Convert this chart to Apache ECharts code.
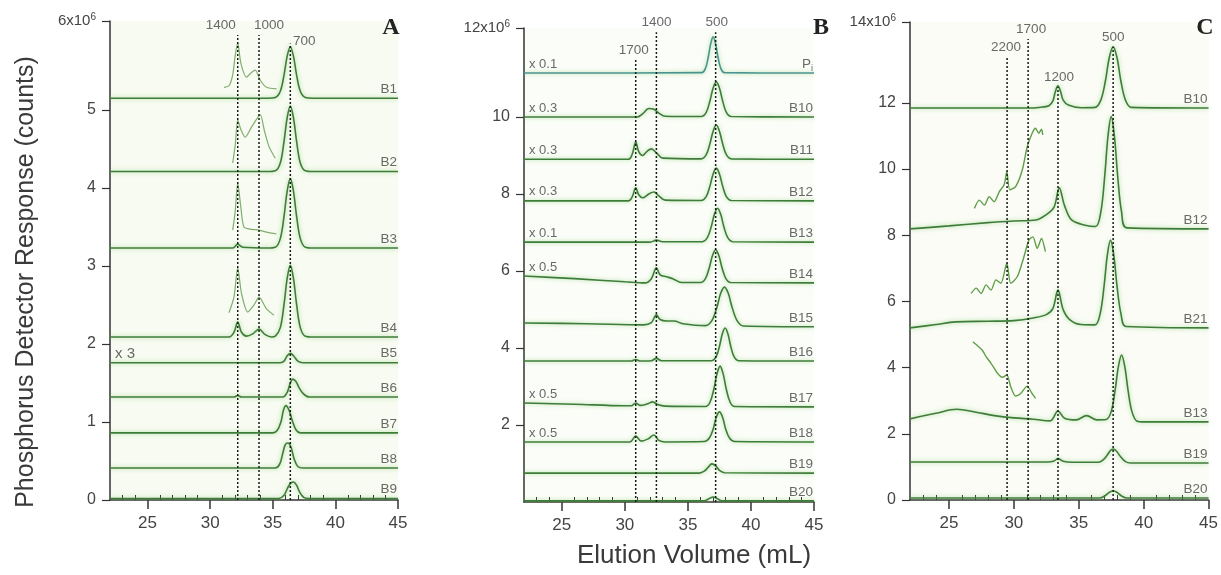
<!DOCTYPE html>
<html><head><meta charset="utf-8">
<script src="https://cdn.jsdelivr.net/npm/echarts@6/dist/echarts.min.js"></script>
<style>html,body{margin:0;padding:0;background:#fff}#c{width:1221px;height:575px}</style>
</head><body><div id="c"></div>
<script>
// ---------- shared axis ticks ----------
const X_MAJOR = [25, 30, 35, 40, 45];
const X_MINOR = [23, 24, 26, 27, 28, 29, 31, 32, 33, 34, 36, 37, 38, 39, 41, 42, 43, 44];

// ---------- Panel A ----------
const A_yTickValues = [0, 1, 2, 3, 4, 5, 6.14];
const A_yTickLabels = ['0', '1', '2', '3', '4', '5', '{m|6x10}{s|6}'];
const A_names = ['B1', 'B2', 'B3', 'B4', 'B5', 'B6', 'B7', 'B8', 'B9'];
const A_scale = ['', '', '', '', 'x 3', '', '', '', ''];
const A_refX = [32.2, 33.9, 36.4];
const A_refTop = [5.96, 5.96, 5.85];
const A_refText = ['1400', '1000', '700'];
const A_B1 = [[22,5.15],[34.6,5.15],[35.2,5.16],[35.6,5.24],[35.9,5.45],[36.15,5.69],[36.4,5.81],[36.65,5.69],[36.9,5.45],[37.2,5.24],[37.6,5.16],[38.2,5.15],[45,5.15]];
const A_B2 = [[22,4.21],[34.6,4.21],[35.2,4.22],[35.6,4.32],[35.9,4.6],[36.15,4.9],[36.4,5.05],[36.65,4.9],[36.9,4.6],[37.2,4.32],[37.6,4.22],[38.2,4.21],[45,4.21]];
const A_B3 = [[22,3.23],[31.8,3.23],[32.2,3.28],[32.6,3.24],[34.6,3.23],[35.2,3.24],[35.6,3.35],[35.9,3.64],[36.15,3.96],[36.4,4.12],[36.65,3.96],[36.9,3.64],[37.2,3.35],[37.6,3.24],[38.2,3.23],[45,3.23]];
const A_B4 = [[22,2.09],[31.5,2.09],[31.9,2.15],[32.2,2.28],[32.5,2.15],[32.9,2.1],[33.4,2.13],[33.9,2.19],[34.4,2.12],[34.9,2.09],[35.2,2.1],[35.6,2.21],[35.9,2.51],[36.15,2.84],[36.4,3.01],[36.65,2.84],[36.9,2.51],[37.2,2.21],[37.6,2.1],[38.2,2.09],[45,2.09]];
const A_B5 = [[22,1.76],[35.6,1.76],[35.9,1.78],[36.15,1.85],[36.4,1.88],[36.7,1.84],[37.0,1.78],[37.4,1.76],[45,1.76]];
const A_B6 = [[22,1.32],[31.9,1.32],[32.2,1.34],[32.5,1.32],[35.8,1.32],[36.15,1.38],[36.4,1.5],[36.6,1.55],[36.85,1.52],[37.1,1.44],[37.45,1.36],[37.9,1.32],[45,1.32]];
const A_B7 = [[22,0.86],[35.0,0.86],[35.35,0.89],[35.65,1.0],[35.85,1.15],[36.05,1.21],[36.3,1.15],[36.55,1.02],[36.85,0.9],[37.2,0.86],[45,0.86]];
const A_B8 = [[22,0.41],[35.2,0.41],[35.55,0.46],[35.8,0.6],[36.0,0.71],[36.2,0.73],[36.45,0.68],[36.7,0.53],[37.0,0.43],[37.4,0.41],[45,0.41]];
const A_B9 = [[22,0.02],[35.5,0.02],[35.9,0.06],[36.2,0.16],[36.45,0.22],[36.65,0.23],[36.9,0.19],[37.15,0.1],[37.5,0.03],[37.9,0.02],[45,0.02]];
const A_I1 = [[31.1,5.29],[31.5,5.31],[31.8,5.45],[32.0,5.7],[32.2,5.86],[32.45,5.6],[32.9,5.42],[33.3,5.48],[33.6,5.51],[34.0,5.38],[34.5,5.29],[35.3,5.27]];
const A_I2 = [[31.8,4.32],[32.0,4.55],[32.2,4.87],[32.45,4.75],[32.8,4.65],[33.3,4.78],[33.7,4.88],[34.0,4.94],[34.35,4.72],[34.7,4.53],[35.2,4.38]];
const A_I3 = [[31.8,3.46],[32.0,3.7],[32.2,4.07],[32.45,3.75],[32.7,3.5],[33.3,3.47],[33.9,3.46],[34.6,3.43],[35.3,3.41]];
const A_I4 = [[31.5,2.4],[31.9,2.6],[32.2,2.98],[32.5,2.65],[33.0,2.41],[33.5,2.5],[33.9,2.6],[34.5,2.45],[35.1,2.37]];

// ---------- Panel B ----------
const B_yTickValues = [2, 4, 6, 8, 10, 12.31];
const B_yTickLabels = ['2', '4', '6', '8', '10', '{m|12x10}{s|6}'];
const B_names = ['P{sub|i}', 'B10', 'B11', 'B12', 'B13', 'B14', 'B15', 'B16', 'B17', 'B18', 'B19', 'B20'];
const B_scale = ['x 0.1', 'x 0.3', 'x 0.3', 'x 0.3', 'x 0.1', 'x 0.5', '', '', 'x 0.5', 'x 0.5', '', ''];
const B_refX = [30.86, 32.5, 37.2];
const B_refTop = [11.48, 12.2, 12.2];
const B_refText = ['1700', '1400', '500'];
const B_Pi = [[22,11.14],[36.1,11.15],[36.4,11.27],[36.6,11.53],[36.8,11.89],[37.0,12.08],[37.2,11.89],[37.4,11.53],[37.6,11.27],[37.9,11.15],[45,11.14]];
const B_B10 = [[22,10.0],[31.0,10.0],[31.4,10.08],[31.9,10.22],[32.3,10.2],[32.7,10.1],[33.2,10.02],[36.05,10.01],[36.45,10.12],[36.75,10.42],[37.0,10.75],[37.25,10.91],[37.5,10.75],[37.75,10.42],[38.05,10.12],[38.45,10.01],[45,10.0]];
const B_B11 = [[22,8.9],[30.3,8.9],[30.6,9.05],[30.86,9.35],[31.1,9.1],[31.4,9.0],[31.8,9.12],[32.1,9.17],[32.5,9.07],[33.0,8.93],[36.05,8.91],[36.45,9.02],[36.75,9.31],[37.0,9.63],[37.25,9.79],[37.5,9.63],[37.75,9.31],[38.05,9.02],[38.45,8.91],[45,8.9]];
const B_B12 = [[22,7.82],[30.3,7.82],[30.6,7.94],[30.86,8.16],[31.1,7.98],[31.4,7.9],[31.9,8.0],[32.3,8.05],[32.7,7.95],[33.2,7.84],[36.05,7.83],[36.45,7.93],[36.75,8.21],[37.0,8.52],[37.25,8.67],[37.5,8.52],[37.75,8.21],[38.05,7.93],[38.45,7.83],[45,7.82]];
const B_B13 = [[22,6.75],[32.0,6.75],[32.5,6.8],[33.0,6.76],[36.15,6.76],[36.55,6.87],[36.85,7.15],[37.1,7.47],[37.35,7.63],[37.6,7.47],[37.85,7.15],[38.15,6.87],[38.55,6.76],[45,6.75]];
const B_B14 = [[22,5.87],[26,5.8],[30,5.72],[31.6,5.69],[32.1,5.8],[32.5,6.08],[32.8,5.9],[33.3,5.85],[33.8,5.8],[34.5,5.7],[36.0,5.7],[36.4,5.81],[36.7,6.09],[36.95,6.4],[37.2,6.55],[37.45,6.4],[37.7,6.09],[38.0,5.81],[38.4,5.7],[45,5.69]];
const B_B15 = [[22,4.65],[27,4.63],[31.5,4.6],[32.1,4.66],[32.5,4.86],[32.8,4.74],[33.3,4.7],[33.9,4.7],[34.6,4.63],[36.4,4.58],[36.9,4.71],[37.3,5.06],[37.6,5.42],[37.9,5.58],[38.2,5.42],[38.5,5.06],[38.9,4.71],[39.4,4.57],[45,4.55]];
const B_B16 = [[22,3.66],[30.5,3.66],[30.86,3.7],[31.2,3.66],[32.1,3.67],[32.5,3.73],[32.9,3.67],[36.9,3.67],[37.25,3.78],[37.5,4.04],[37.73,4.37],[37.95,4.52],[38.17,4.37],[38.4,4.04],[38.65,3.78],[39.0,3.67],[45,3.66]];
const B_B17 = [[22,2.57],[26,2.54],[30,2.5],[30.5,2.5],[30.86,2.57],[31.2,2.51],[31.8,2.55],[32.2,2.6],[32.6,2.53],[33.2,2.49],[36.4,2.48],[36.75,2.59],[37.05,2.92],[37.3,3.32],[37.55,3.53],[37.8,3.32],[38.05,2.92],[38.35,2.59],[38.7,2.48],[45,2.47]];
const B_B18 = [[22,1.56],[30.4,1.56],[30.86,1.71],[31.3,1.58],[31.9,1.65],[32.3,1.74],[32.7,1.6],[33.2,1.56],[36.3,1.57],[36.7,1.66],[37.0,1.89],[37.25,2.2],[37.5,2.34],[37.75,2.2],[38.0,1.89],[38.3,1.66],[38.7,1.57],[45,1.56]];
const B_B19 = [[22,0.75],[35.9,0.75],[36.3,0.8],[36.6,0.9],[36.9,0.99],[37.2,0.94],[37.5,0.82],[37.9,0.76],[45,0.75]];
const B_B20 = [[22,0.03],[36.3,0.03],[36.7,0.09],[37.0,0.13],[37.3,0.09],[37.7,0.03],[45,0.03]];

// ---------- Panel C ----------
const C_yTickValues = [0, 2, 4, 6, 8, 10, 12, 14.44];
const C_yTickLabels = ['0', '2', '4', '6', '8', '10', '12', '{m|14x10}{s|6}'];
const C_names = ['B10', 'B12', 'B21', 'B13', 'B19', 'B20'];
const C_refX = [29.48, 31.1, 33.4, 37.65];
const C_refTop = [13.38, 13.93, 12.48, 13.69];
const C_refText = ['2200', '1700', '1200', '500'];
const C_B10 = [[22,11.84],[31.5,11.84],[32.2,11.87],[32.7,11.91],[33.0,12.05],[33.2,12.34],[33.4,12.51],[33.6,12.34],[33.8,12.08],[34.2,11.93],[35.2,11.85],[36.25,11.86],[36.7,12.08],[37.05,12.65],[37.35,13.36],[37.65,13.69],[37.95,13.36],[38.25,12.65],[38.6,12.08],[39.05,11.86],[45,11.84]];
const C_B12 = [[22,8.19],[25,8.28],[28,8.38],[30,8.43],[31.7,8.46],[32.5,8.62],[33.1,8.85],[33.5,9.43],[33.9,8.9],[34.45,8.46],[35.5,8.3],[36.3,8.26],[36.7,8.7],[37.0,9.78],[37.25,10.98],[37.5,11.58],[37.75,10.98],[38.0,9.78],[38.3,8.7],[38.7,8.22],[45,8.19]];
const C_B21 = [[22,5.2],[24,5.3],[25.5,5.38],[28,5.4],[30,5.42],[31.5,5.5],[32.5,5.6],[33.0,5.78],[33.4,6.34],[33.8,5.75],[34.3,5.45],[35.2,5.3],[36.25,5.29],[36.65,5.63],[36.95,6.46],[37.2,7.39],[37.45,7.85],[37.7,7.39],[37.95,6.46],[38.25,5.63],[38.65,5.24],[45,5.2]];
const C_B13 = [[22,2.45],[24,2.62],[25.6,2.74],[27,2.66],[28.5,2.55],[30,2.48],[31.5,2.44],[32.8,2.39],[33.4,2.69],[33.9,2.47],[34.8,2.42],[35.6,2.55],[36.4,2.42],[37.1,2.43],[37.5,2.67],[37.8,3.31],[38.05,4.02],[38.3,4.38],[38.55,4.02],[38.8,3.31],[39.1,2.67],[39.5,2.38],[40,2.36],[45,2.36]];
const C_B19 = [[22,1.15],[32.6,1.15],[33.1,1.18],[33.4,1.25],[33.8,1.17],[34.5,1.14],[36.5,1.14],[36.9,1.22],[37.2,1.36],[37.45,1.5],[37.65,1.54],[37.9,1.48],[38.2,1.32],[38.6,1.16],[39.0,1.12],[45,1.12]];
const C_B20 = [[22,0.06],[36.6,0.06],[37.0,0.12],[37.35,0.23],[37.65,0.28],[37.95,0.23],[38.3,0.12],[38.7,0.06],[45,0.06]];
const C_I12 = [[26.96,8.81],[27.34,9.06],[27.73,8.91],[28.1,9.16],[28.49,9.01],[28.87,9.31],[29.25,9.52],[29.46,9.92],[29.69,9.37],[30.14,9.47],[30.65,9.97],[31.03,10.67],[31.41,11.08],[31.67,11.23],[31.92,11.08],[32.13,11.2],[32.23,11.03]];
const C_I21 = [[26.71,6.24],[27.1,6.4],[27.47,6.24],[27.86,6.5],[28.24,6.34],[28.62,6.65],[29.0,6.55],[29.46,7.15],[29.76,6.55],[30.27,6.75],[30.78,7.35],[31.16,7.85],[31.47,7.95],[31.8,7.6],[32.13,7.9],[32.43,7.5]];
const C_I13 = [[26.84,4.78],[27.29,4.63],[27.6,4.51],[27.86,4.33],[28.24,4.13],[28.74,3.83],[29.12,3.71],[29.46,3.78],[29.76,3.42],[30.14,3.14],[30.53,3.22],[31.03,3.44],[31.37,3.24],[31.67,3.07]];

// ---------- build ----------
const FONT = '"Liberation Sans", Arial, Helvetica, sans-serif';
const MAIN = '#3e7d38';
const panels = [
  { traces:[A_B1,A_B2,A_B3,A_B4,A_B5,A_B6,A_B7,A_B8,A_B9], names:A_names, scale:A_scale, scaleFont:15,
    insets:[A_I1,A_I2,A_I3,A_I4], insetColor:'#7fae6e', insetWidth:1.2, bg:'#f7fbf1',
    refX:A_refX, refTop:A_refTop, refText:A_refText, refOff:[[-17,0],[10,0],[14,8]],
    yTickValues:A_yTickValues, yTickLabels:A_yTickLabels,
    grid:{left:110, width:288, top:21, height:479} },
  { traces:[B_Pi,B_B10,B_B11,B_B12,B_B13,B_B14,B_B15,B_B16,B_B17,B_B18,B_B19,B_B20], names:B_names, scale:B_scale, scaleFont:13,
    colors:['#4a948f'], insets:[], insetColor:'#7fae6e', insetWidth:1.2, bg:'#fbfdf8',
    refX:B_refX, refTop:B_refTop, refText:B_refText, refOff:[[-2,0],[0,0],[1,0]],
    yTickValues:B_yTickValues, yTickLabels:B_yTickLabels,
    grid:{left:524, width:290, top:28, height:474} },
  { traces:[C_B10,C_B12,C_B21,C_B13,C_B19,C_B20], names:C_names, scale:[], scaleFont:13,
    insets:[C_I12,C_I21,C_I13], insetColor:'#5f9e48', insetWidth:1.4, bg:'#fafcf5',
    refX:C_refX, refTop:C_refTop, refText:C_refText, refOff:[[-1,0],[3,0],[1,0],[0,0]],
    yTickValues:C_yTickValues, yTickLabels:C_yTickLabels,
    grid:{left:910, width:302, top:22, height:478} }
];

const grid = [], xAxis = [], yAxis = [], series = [];
const axisColor = '#333';
panels.forEach((p, gi) => {
  grid.push(Object.assign({containLabel:false, show:true, backgroundColor:p.bg, borderWidth:0}, p.grid));
  const maxY = p.yTickValues[p.yTickValues.length - 1];
  xAxis.push({ gridIndex:gi, type:'value', min:22, max:45,
    axisLine:{show:true, onZero:false, lineStyle:{color:axisColor, width:1.5}},
    axisTick:{show:true, customValues:X_MAJOR, length:9, lineStyle:{color:axisColor, width:1.5}},
    axisLabel:{show:true, customValues:X_MAJOR, fontSize:17, color:'#444', margin:15, fontFamily:FONT},
    splitLine:{show:false} });
  xAxis.push({ gridIndex:gi, type:'value', min:22, max:45,
    axisLine:{show:false}, axisTick:{show:true, customValues:X_MINOR, length:5, lineStyle:{color:axisColor, width:1}},
    axisLabel:{show:false}, splitLine:{show:false} });
  yAxis.push({ gridIndex:gi, type:'value', min:0, max:maxY,
    axisLine:{show:true, lineStyle:{color:axisColor, width:1.5}},
    axisTick:{show:true, customValues:p.yTickValues, length:8, lineStyle:{color:axisColor, width:1.2}},
    axisLabel:{show:true, customValues:p.yTickValues, fontSize:16, color:'#444', margin:14, fontFamily:FONT,
      formatter:(v) => { const k = p.yTickValues.findIndex(u => Math.abs(u - v) < 1e-6); return k >= 0 ? p.yTickLabels[k] : ''; },
      rich:{ m:{fontSize:15, color:'#444', fontFamily:FONT}, s:{fontSize:10, color:'#444', padding:[0,0,8,0], fontFamily:FONT} } },
    splitLine:{show:false} });
  const xi = gi * 2, yi = gi;
  p.traces.forEach((t, i) => {
    series.push({ type:'line', xAxisIndex:xi, yAxisIndex:yi, data:t, smooth:0.35, symbol:'none', silent:true, z:3,
      lineStyle:{color:(p.colors && p.colors[i]) || MAIN, width:1.6, shadowColor:'rgba(110,195,90,0.6)', shadowBlur:4} });
  });
  p.insets.forEach((t) => {
    series.push({ type:'line', xAxisIndex:xi, yAxisIndex:yi, data:t, smooth:0.25, symbol:'none', silent:true, z:3,
      lineStyle:{color:p.insetColor, width:p.insetWidth} });
  });
  p.refX.forEach((x, i) => {
    series.push({ type:'line', xAxisIndex:xi, yAxisIndex:yi, data:[[x, 0], [x, p.refTop[i]]], symbol:'none', silent:true, z:6,
      lineStyle:{color:'#1a1a1a', width:1.5, type:[2, 2]} });
  });
  series.push({ type:'scatter', xAxisIndex:xi, yAxisIndex:yi, symbolSize:0, silent:true, z:7,
    data:p.refX.map((x, i) => ({ value:[x, p.refTop[i]], label:{ formatter:p.refText[i], offset:p.refOff[i] } })),
    label:{show:true, position:'top', distance:3, fontSize:13.5, color:'#444', fontFamily:FONT} });
  series.push({ type:'scatter', xAxisIndex:xi, yAxisIndex:yi, symbolSize:0, silent:true, z:7,
    data:p.traces.map((t, i) => ({ value:t[t.length - 1], label:{ formatter:p.names[i] } })),
    label:{show:true, position:'left', distance:1, offset:[0, -9], fontSize:13.5, color:'#444', fontFamily:FONT,
      rich:{ sub:{fontSize:9, color:'#444', padding:[8,0,0,0], fontFamily:FONT} } } });
  const sc = [];
  p.traces.forEach((t, i) => { if (p.scale[i]) sc.push({ value:t[0], label:{ formatter:p.scale[i] } }); });
  if (sc.length) series.push({ type:'scatter', xAxisIndex:xi, yAxisIndex:yi, symbolSize:0, silent:true, z:7,
    data:sc, label:{show:true, position:'right', distance:5, offset:[0, -9], fontSize:p.scaleFont, color:'#444', fontFamily:FONT} });
});

const option = {
  backgroundColor:'#ffffff',
  animation:false,
  grid, xAxis, yAxis, series,
  graphic:[
    { type:'text', x:26, y:282, rotation:Math.PI / 2, silent:true,
      style:{ text:'Phosphorus Detector Response (counts)', font:'25px ' + FONT, fill:'#3a3a3a', textAlign:'center', textVerticalAlign:'middle' } },
    { type:'text', x:694, y:556, silent:true,
      style:{ text:'Elution Volume (mL)', font:'26px ' + FONT, fill:'#3a3a3a', textAlign:'center', textVerticalAlign:'middle' } },
    { type:'text', x:391, y:28, silent:true, style:{ text:'A', font:'bold 24px "Liberation Serif", "Times New Roman", serif', fill:'#222', textAlign:'center', textVerticalAlign:'middle' } },
    { type:'text', x:821, y:28, silent:true, style:{ text:'B', font:'bold 24px "Liberation Serif", "Times New Roman", serif', fill:'#222', textAlign:'center', textVerticalAlign:'middle' } },
    { type:'text', x:1205, y:28, silent:true, style:{ text:'C', font:'bold 24px "Liberation Serif", "Times New Roman", serif', fill:'#222', textAlign:'center', textVerticalAlign:'middle' } }
  ]
};
const chart = echarts.init(document.getElementById('c'), null, {renderer:'canvas'});
chart.setOption(option);
</script></body></html>
